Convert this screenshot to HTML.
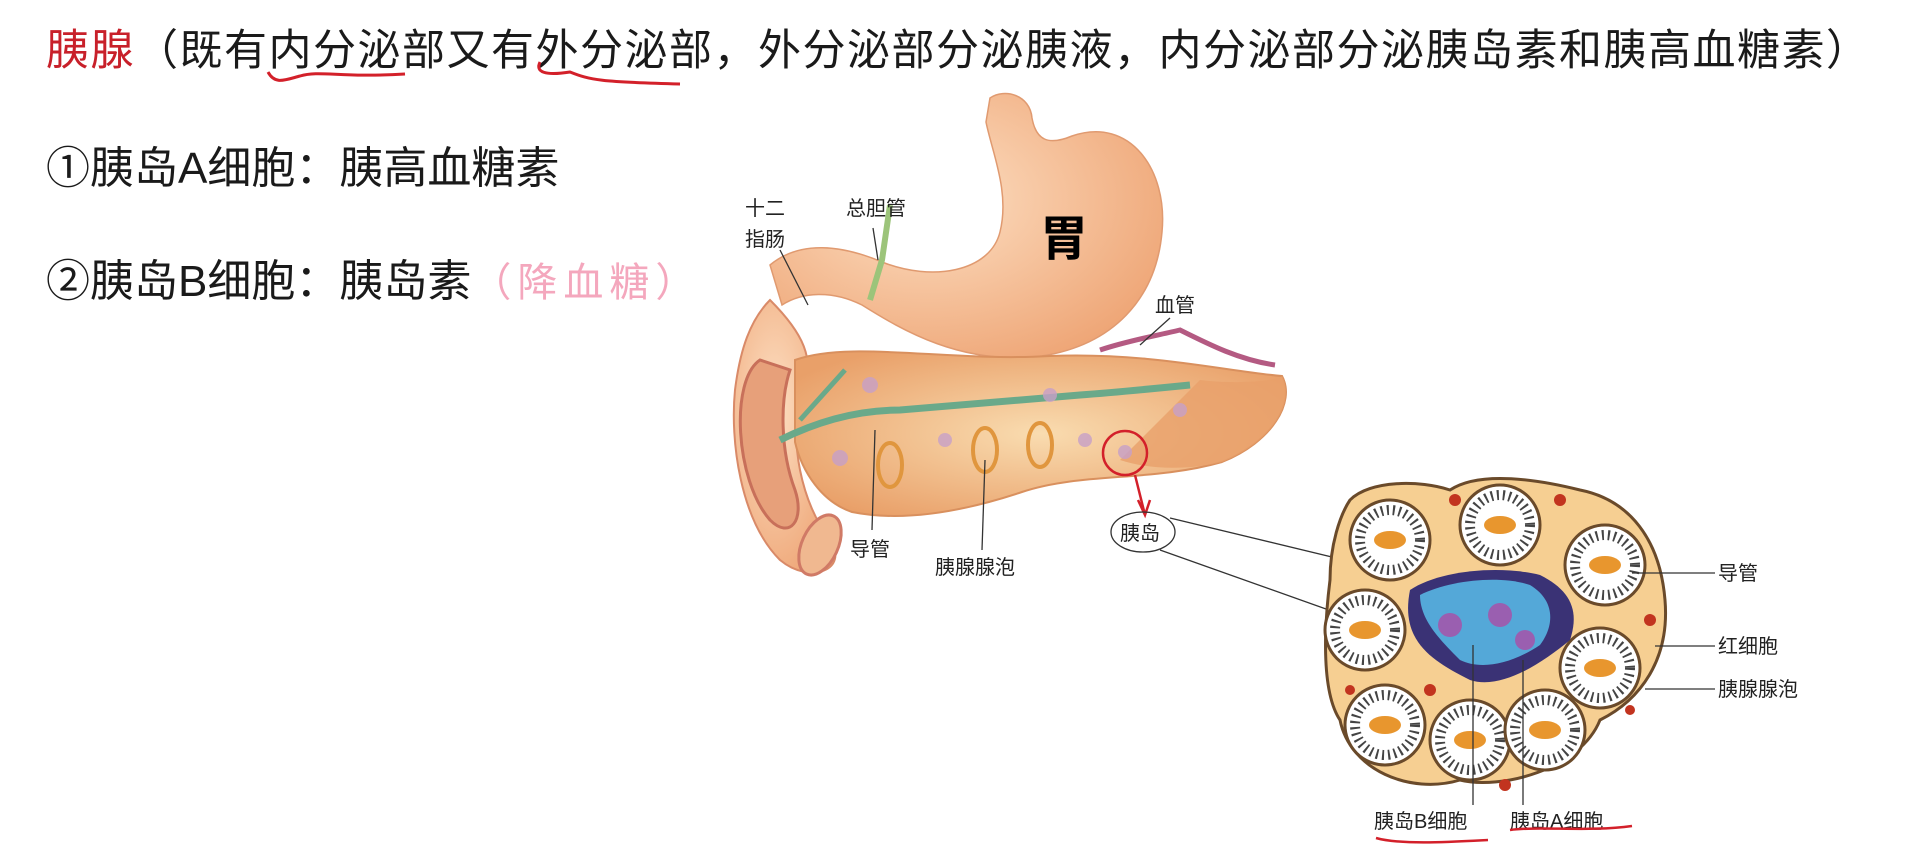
<!DOCTYPE html>
<html><head><meta charset="utf-8"><style>
html,body{margin:0;padding:0;background:#fff;width:1918px;height:845px;overflow:hidden}
body{position:relative;font-family:"Liberation Sans","Noto Sans CJK SC",sans-serif;color:#1a1a1a}
.t{position:absolute;white-space:nowrap}
</style></head><body>
<div class="t" style="left:46px;top:16px;font-size:43px;letter-spacing:1.5px"><span style="color:#c8202a">胰腺</span>（既有内分泌部又有外分泌部，外分泌部分泌胰液，内分泌部分泌胰岛素和胰高血糖素）</div>
<div class="t" style="left:46px;top:132px;font-size:44px">①胰岛A细胞：胰高血糖素</div>
<div class="t" style="left:46px;top:245px;font-size:44px">②胰岛B细胞：胰岛素<span style="color:#f4a7bd;font-size:40px;letter-spacing:6px">（降血糖）</span></div>
<svg style="position:absolute;left:0;top:0" width="1918" height="845" viewBox="0 0 1918 845" font-family="Liberation Sans,Noto Sans CJK SC,sans-serif">
<defs>
<radialGradient id="st" cx="0.4" cy="0.4" r="0.7"><stop offset="0" stop-color="#fde0c4"/><stop offset="1" stop-color="#eea474"/></radialGradient>
<radialGradient id="pa" cx="0.5" cy="0.5" r="0.6"><stop offset="0" stop-color="#f9dcb0"/><stop offset="1" stop-color="#e9a069"/></radialGradient>
<g id="ac"><circle r="40" fill="#fff" stroke="#6a4a2a" stroke-width="3"/><circle r="30" fill="none" stroke="#444" stroke-width="10" stroke-dasharray="2 4"/><ellipse rx="16" ry="9" fill="#e8962e"/></g>
</defs>
<path d="M268,72 C275,85 285,80 300,76 C320,70 340,78 405,74" stroke="#d3202a" stroke-width="3" fill="none"/>
<path d="M540,62 C535,72 545,76 570,72 C590,80 600,82 680,84" stroke="#d3202a" stroke-width="3" fill="none"/>
<path d="M770,300 C800,330 820,360 800,400 C790,440 800,500 830,540 C850,570 810,585 780,560 C740,520 730,440 735,390 C740,350 750,320 770,300Z" fill="url(#st)" stroke="#d98a68" stroke-width="2"/>
<path d="M760,360 C730,380 735,480 770,520 C790,540 805,520 795,490 C780,450 780,400 790,370Z" fill="#e7a07a" stroke="#c8705a" stroke-width="3"/>
<ellipse cx="820" cy="545" rx="18" ry="32" transform="rotate(25 820 545)" fill="#f0b890" stroke="#d07a66" stroke-width="3"/>
<path d="M990,98 C1005,88 1030,95 1032,118 C1036,140 1048,146 1072,136 C1130,116 1168,170 1162,232 C1156,300 1112,345 1042,356 C962,366 902,330 862,305 C832,290 802,292 782,305 L770,265 C800,240 842,245 882,262 C932,282 990,272 1000,232 C1010,192 992,152 986,122 Z" fill="url(#st)" stroke="#e09a70" stroke-width="1.5"/>
<path d="M890,205 L882,260 L870,300" stroke="#9cc47a" stroke-width="6" fill="none"/>
<text x="1040" y="255" font-size="48" font-weight="bold">胃</text>
<path d="M795,360 C850,340 950,362 1050,356 C1150,352 1230,372 1282,376 C1296,402 1272,442 1222,462 C1152,482 1082,472 1022,492 C962,512 902,522 852,512 C822,502 802,472 795,442 Z" fill="url(#pa)" stroke="#d9905e" stroke-width="2"/>
<path d="M1200,380 C1240,385 1280,380 1282,376 C1296,402 1272,442 1222,462 C1190,470 1150,470 1120,460 Z" fill="#e9a06a" opacity="0.8"/>
<path d="M780,440 C820,420 860,410 900,410 C960,405 1020,400 1080,395 C1120,392 1160,388 1190,385" stroke="#6aa98a" stroke-width="7" fill="none"/>
<path d="M800,420 L845,370" stroke="#6aa98a" stroke-width="5"/>
<g fill="#c7a0c8" opacity="0.8"><circle cx="870" cy="385" r="8"/><circle cx="1050" cy="395" r="7"/><circle cx="945" cy="440" r="7"/><circle cx="1085" cy="440" r="7"/><circle cx="840" cy="458" r="8"/><circle cx="1180" cy="410" r="7"/><circle cx="1125" cy="452" r="7"/></g>
<g stroke="#e0963e" stroke-width="4" fill="none"><ellipse cx="890" cy="465" rx="12" ry="22"/><ellipse cx="985" cy="450" rx="12" ry="22"/><ellipse cx="1040" cy="445" rx="12" ry="22"/></g>
<path d="M1100,350 C1130,340 1160,335 1180,330 C1210,345 1240,360 1275,365" stroke="#b45a82" stroke-width="5" fill="none"/>
<circle cx="1125" cy="453" r="22" fill="none" stroke="#d3202a" stroke-width="2.5"/>
<path d="M1135,475 L1145,515 M1138,500 L1145,515 L1150,500" stroke="#d3202a" stroke-width="2.5" fill="none"/>
<g font-size="20" fill="#222">
<text x="745" y="215">十二</text><text x="745" y="246">指肠</text>
<text x="846" y="215">总胆管</text>
<text x="1155" y="312">血管</text>
<text x="850" y="556">导管</text>
<text x="935" y="574">胰腺腺泡</text>
<text x="1120" y="540">胰岛</text>
</g>
<g stroke="#333" stroke-width="1.3" fill="none">
<line x1="780" y1="250" x2="808" y2="305"/>
<line x1="873" y1="228" x2="878" y2="260"/>
<line x1="1170" y1="318" x2="1140" y2="345"/>
<line x1="872" y1="530" x2="875" y2="430"/>
<line x1="982" y1="550" x2="985" y2="460"/>
<ellipse cx="1143" cy="532" rx="32" ry="20"/>
<line x1="1170" y1="518" x2="1365" y2="565"/>
<line x1="1160" y1="550" x2="1385" y2="630"/>
</g>
<path d="M1350,500 C1370,480 1420,480 1450,490 C1480,470 1540,480 1580,490 C1630,500 1660,540 1665,600 C1670,660 1640,700 1600,720 C1580,770 1500,790 1460,780 C1410,795 1350,770 1340,720 C1320,690 1325,620 1330,580 C1330,545 1340,515 1350,500Z" fill="#f6cf92" stroke="#6a4a2a" stroke-width="3"/>
<use href="#ac" x="1390" y="540"/><use href="#ac" x="1500" y="525"/><use href="#ac" x="1605" y="565"/><use href="#ac" x="1365" y="630"/><use href="#ac" x="1600" y="668"/><use href="#ac" x="1385" y="725"/><use href="#ac" x="1470" y="740"/><use href="#ac" x="1545" y="730"/>
<path d="M1410,590 C1440,570 1500,565 1540,575 C1570,590 1580,610 1570,640 C1540,665 1500,690 1470,680 C1430,660 1400,640 1410,590Z" fill="#3a3275"/>
<path d="M1420,595 C1450,580 1500,575 1530,585 C1555,600 1555,625 1540,645 C1510,665 1480,670 1460,660 C1440,640 1420,620 1420,595Z" fill="#54a8d8"/>
<g fill="#9a5fb0"><circle cx="1450" cy="625" r="12"/><circle cx="1500" cy="615" r="12"/><circle cx="1525" cy="640" r="10"/></g>
<g fill="#c2341f"><circle cx="1455" cy="500" r="6"/><circle cx="1560" cy="500" r="6"/><circle cx="1650" cy="620" r="6"/><circle cx="1430" cy="690" r="6"/><circle cx="1505" cy="785" r="6"/><circle cx="1350" cy="690" r="5"/><circle cx="1630" cy="710" r="5"/></g>
<g stroke="#333" stroke-width="1.3"><line x1="1632" y1="573" x2="1715" y2="573"/><line x1="1655" y1="646" x2="1715" y2="646"/><line x1="1645" y1="689" x2="1715" y2="689"/><line x1="1473" y1="645" x2="1473" y2="805"/><line x1="1523" y1="660" x2="1523" y2="805"/></g>
<g font-size="20" fill="#222">
<text x="1718" y="580">导管</text><text x="1718" y="653">红细胞</text><text x="1718" y="696">胰腺腺泡</text>
<text x="1374" y="828">胰岛B细胞</text><text x="1510" y="828">胰岛A细胞</text>
</g>
<path d="M1376,838 C1400,845 1450,842 1488,840" stroke="#d3202a" stroke-width="2.5" fill="none"/>
<path d="M1510,830 C1540,826 1590,832 1632,826" stroke="#d3202a" stroke-width="2.5" fill="none"/>
</svg>
</body></html>
